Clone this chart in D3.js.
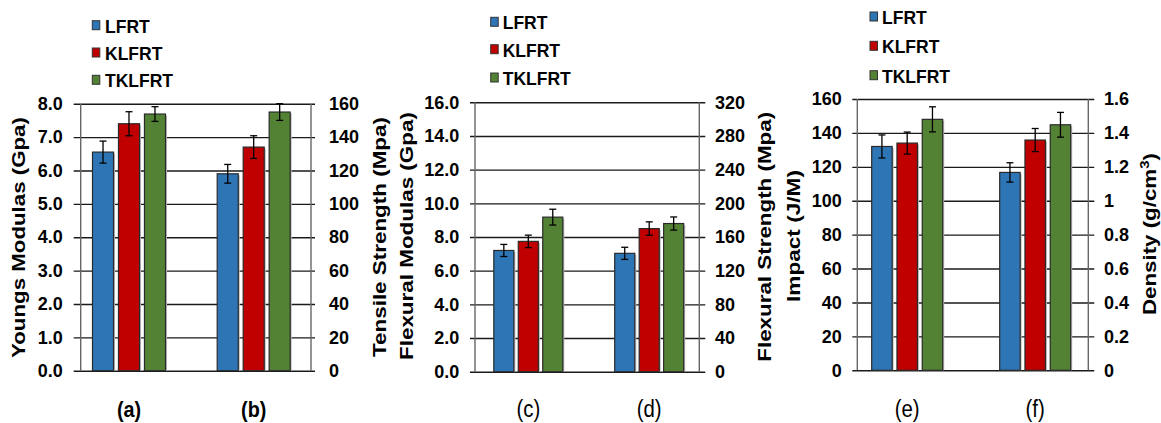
<!DOCTYPE html>
<html>
<head>
<meta charset="utf-8">
<script src="https://cdn.jsdelivr.net/npm/d3@7"></script>
<style>
    body { margin: 0; background: #fff; }
    svg { display: block; }
    text { font-family: "Liberation Sans", Arial, sans-serif; fill: #000; }
</style>
</head>
<body>
<svg id="chart"></svg>
<script>
const series = ["LFRT", "KLFRT", "TKLFRT"];
const seriesColors = ["#2E75B6", "#C00000", "#548235"];

// (a) youngs modulus (Gpa, left axis)  (b) tensile strength (Mpa, right axis)
const youngsModulus = [6.55, 7.40, 7.69];
const youngsErr = [0.33, 0.36, 0.22];
const tensileStrength = [118, 134, 155];
const tensileErr = [5.6, 6.8, 5.0];
const youngsTicks = [0, 1, 2, 3, 4, 5, 6, 7, 8];
const tensileTicks = [0, 20, 40, 60, 80, 100, 120, 140, 160];

// (c) flexural modulus (Gpa, left)  (d) flexural strength (Mpa, right)
const flexModulus = [7.2, 7.74, 9.18];
const flexModulusErr = [0.36, 0.37, 0.47];
const flexStrength = [140.6, 170, 176];
const flexStrengthErr = [7.2, 8.0, 7.8];
const flexModulusTicks = [0, 2, 4, 6, 8, 10, 12, 14, 16];
const flexStrengthTicks = [0, 40, 80, 120, 160, 200, 240, 280, 320];

// (e) impact (J/M, left)  (f) density (g/cm3, right)
const impact = [132, 134, 148];
const impactErr = [6.8, 6.5, 7.4];
const density = [1.167, 1.358, 1.448];
const densityErr = [0.057, 0.068, 0.073];
const impactTicks = [0, 20, 40, 60, 80, 100, 120, 140, 160];
const densityTicks = [0, 0.2, 0.4, 0.6, 0.8, 1.0, 1.2, 1.4, 1.6];

const width = 1161;
const height = 423;

const svg = d3.select("#chart")
    .attr("width", width)
    .attr("height", height)
    .attr("viewBox", [0, 0, width, height]);

const trimNum = d => String(+d.toFixed(1));

const panels = [
    {
        left: 80.7, right: 311, top: 103.7, bottom: 370.7,
        gridLeft: 7, gridRight: 4, labelGap: 18,
        catRange: [66.65, 316.05], groupWidth: 73, barPad: 0.19,
        leftTicks: youngsTicks, rightTicks: tensileTicks,
        leftFormat: d3.format(".1f"), rightFormat: d3.format("d"),
        cats: [
            {label: "(a)", values: youngsModulus, errs: youngsErr, axis: "left"},
            {label: "(b)", values: tensileStrength, errs: tensileErr, axis: "right"}
        ],
        catFont: {size: 22, weight: "bold", sx: 0.9},
        leftTitle: {text: "Youngs Modulas (Gpa)", x: 24.5, y: 237.5, len: 241},
        rightTitle: {text: "Tensile Strength (Mpa)", x: 386, y: 237, len: 240},
        legend: {x: 92.3, textX: 105, rows: [32.7, 60, 87.3]}
    },
    {
        left: 475, right: 699.3, top: 102.3, bottom: 371.7,
        gridLeft: 5, gridRight: 6, labelGap: 15.7,
        catRange: [467.85, 709.65], groupWidth: 69, barPad: 0.18,
        leftTicks: flexModulusTicks, rightTicks: flexStrengthTicks,
        leftFormat: d3.format(".1f"), rightFormat: d3.format("d"),
        cats: [
            {label: "(c)", values: flexModulus, errs: flexModulusErr, axis: "left"},
            {label: "(d)", values: flexStrength, errs: flexStrengthErr, axis: "right"}
        ],
        catFont: {size: 24, weight: "normal", sx: 0.85},
        leftTitle: {text: "Flexural Modulas (Gpa)", x: 413, y: 236, len: 248},
        rightTitle: {text: "Flexural Strength (Mpa)", x: 771, y: 236.7, len: 250},
        legend: {x: 490.7, textX: 502.7, rows: [29.3, 56.7, 85]}
    },
    {
        left: 857.3, right: 1088.3, top: 99, bottom: 370.3,
        gridLeft: 5, gridRight: 6, labelGap: 15.6,
        catRange: [843.2, 1099.2], groupWidth: 71, barPad: 0.19,
        leftTicks: impactTicks, rightTicks: densityTicks,
        leftFormat: d3.format("d"), rightFormat: trimNum,
        cats: [
            {label: "(e)", values: impact, errs: impactErr, axis: "left"},
            {label: "(f)", values: density, errs: densityErr, axis: "right"}
        ],
        catFont: {size: 24, weight: "normal", sx: 0.85},
        leftTitle: {text: "Impact (J/M)", x: 800, y: 236, len: 132},
        rightTitle: {text: "Density (g/cm", sup: "3", tail: ")", x: 1156, y: 234, len: 162},
        legend: {x: 870, textX: 882, rows: [24, 53.3, 82.7]}
    }
];

function drawTitle(g, t) {
    let text = g.append("text")
        .attr("font-size", 18)
        .attr("font-weight", "bold")
        .attr("text-anchor", "start")
        .text(t.text);
    if (t.sup) {
        text.append("tspan")
            .attr("font-size", 12)
            .attr("dy", -7)
            .text(t.sup);
        text.append("tspan")
            .attr("dy", 7)
            .text(t.tail);
    }
    let w = text.node().getBBox().width;
    let k = t.len / w;
    text.attr("transform", "translate(" + t.x + "," + (t.y + t.len / 2) + ") rotate(-90) scale(" + k + ",1)");
}

function drawPanel(p) {
    let g = svg.append("g").classed("panel", true);
    let yL = d3.scaleLinear()
        .domain([0, d3.max(p.leftTicks)])
        .range([p.bottom, p.top]);
    let yR = d3.scaleLinear()
        .domain([0, d3.max(p.rightTicks)])
        .range([p.bottom, p.top]);
    let x = d3.scaleBand()
        .domain(p.cats.map(c => c.label))
        .range(p.catRange);
    let xs = d3.scaleBand()
        .domain(series)
        .range([-p.groupWidth / 2, p.groupWidth / 2])
        .paddingInner(p.barPad);

    // gridlines + left labels
    let plotW = p.right - p.left;
    let leftAxis = g.append("g")
        .attr("transform", "translate(" + (p.left - p.gridLeft) + ",0)")
        .call(d3.axisLeft(yL)
            .tickValues(p.leftTicks)
            .tickFormat(p.leftFormat)
            .tickSizeInner(-(p.gridLeft + plotW + p.gridRight))
            .tickSizeOuter(0)
            .tickPadding(p.labelGap - p.gridLeft));
    leftAxis.select(".domain").remove();
    leftAxis.selectAll("line")
        .attr("stroke", "#1a1a1a")
        .attr("stroke-width", 1.4);
    leftAxis.selectAll("text")
        .attr("font-family", "'Liberation Sans', Arial, sans-serif")
        .attr("font-size", 18)
        .attr("font-weight", "bold")
        .attr("fill", "#000");

    let rightAxis = g.append("g")
        .attr("transform", "translate(" + p.right + ",0)")
        .call(d3.axisRight(yR)
            .tickValues(p.rightTicks)
            .tickFormat(p.rightFormat)
            .tickSize(0)
            .tickPadding(p.labelGap));
    rightAxis.select(".domain").remove();
    rightAxis.selectAll("text")
        .attr("font-family", "'Liberation Sans', Arial, sans-serif")
        .attr("font-size", 18)
        .attr("font-weight", "bold")
        .attr("fill", "#000");

    // frame verticals
    g.selectAll("line.frame")
        .data([p.left, p.right])
        .join("line")
        .classed("frame", true)
        .attr("x1", d => d)
        .attr("x2", d => d)
        .attr("y1", p.top)
        .attr("y2", p.bottom)
        .attr("stroke", "#666")
        .attr("stroke-width", 1.4);

    p.cats.forEach(cat => {
        let y = cat.axis === "left" ? yL : yR;
        let cx = x(cat.label) + x.bandwidth() / 2;
        let rows = series.map((s, i) => ({s: s, v: cat.values[i], e: cat.errs[i], c: seriesColors[i]}));
        let cg = g.append("g")
            .attr("transform", "translate(" + cx + ",0)");
        // faint shadow
        cg.selectAll("rect.shadow")
            .data(rows)
            .join("rect")
            .classed("shadow", true)
            .attr("x", d => xs(d.s) + 1.5)
            .attr("y", d => y(d.v) + 1.5)
            .attr("width", xs.bandwidth())
            .attr("height", d => p.bottom - y(d.v) - 1.5)
            .attr("fill", "#bbb");
        cg.selectAll("rect.bar")
            .data(rows)
            .join("rect")
            .classed("bar", true)
            .attr("x", d => xs(d.s))
            .attr("y", d => y(d.v))
            .attr("width", xs.bandwidth())
            .attr("height", d => p.bottom - y(d.v))
            .attr("fill", d => d.c)
            .attr("stroke", "#2a2a2a")
            .attr("stroke-width", 1.2);
        let eb = cg.selectAll("g.err")
            .data(rows)
            .join("g")
            .classed("err", true)
            .attr("transform", d => "translate(" + (xs(d.s) + xs.bandwidth() / 2) + ",0)")
            .attr("stroke", "#000")
            .attr("stroke-width", 1.3);
        eb.append("line")
            .attr("y1", d => y(d.v + d.e))
            .attr("y2", d => y(d.v - d.e));
        eb.append("line")
            .attr("x1", -3.5).attr("x2", 3.5)
            .attr("y1", d => y(d.v + d.e))
            .attr("y2", d => y(d.v + d.e));
        eb.append("line")
            .attr("x1", -3.5).attr("x2", 3.5)
            .attr("y1", d => y(d.v - d.e))
            .attr("y2", d => y(d.v - d.e));

        g.append("text")
            .attr("transform", "translate(" + cx + ",417) scale(" + p.catFont.sx + ",1)")
            .attr("text-anchor", "middle")
            .attr("font-size", p.catFont.size)
            .attr("font-weight", p.catFont.weight)
            .text(cat.label);
    });

    drawTitle(g, p.leftTitle);
    drawTitle(g, p.rightTitle);

    // legend
    let lg = g.append("g");
    let items = lg.selectAll("g")
        .data(series)
        .join("g")
        .attr("transform", (d, i) => "translate(0," + p.legend.rows[i] + ")");
    items.append("rect")
        .attr("x", p.legend.x)
        .attr("y", -12)
        .attr("width", 7.5)
        .attr("height", 9)
        .attr("fill", (d, i) => seriesColors[i])
        .attr("stroke", "#333")
        .attr("stroke-width", 1);
    items.append("text")
        .attr("x", p.legend.textX)
        .attr("font-size", 17.5)
        .attr("font-weight", "bold")
        .text(d => d);
}

panels.forEach(drawPanel);
</script>
</body>
</html>
